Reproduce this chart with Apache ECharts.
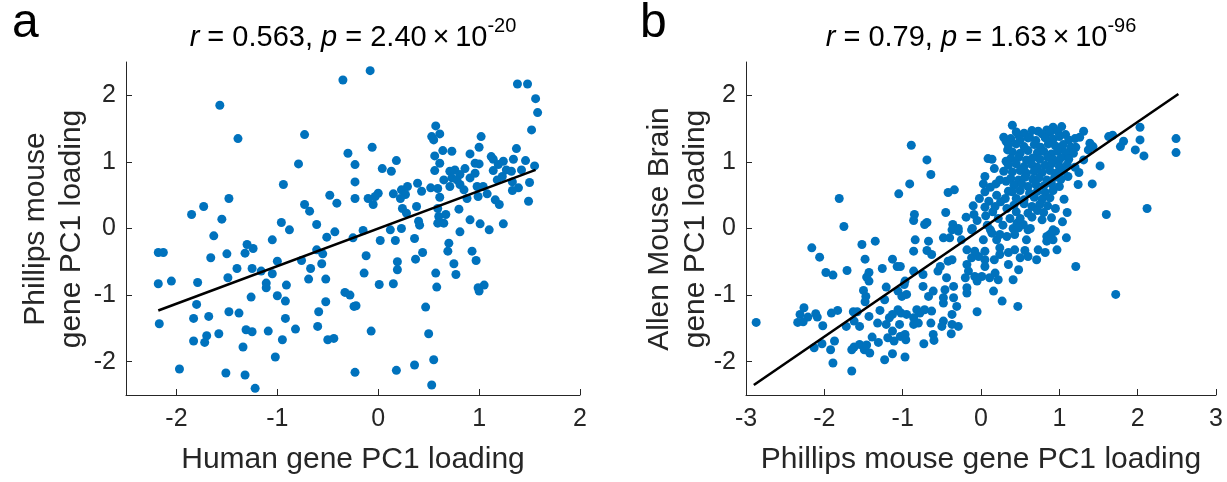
<!DOCTYPE html>
<html>
<head>
<meta charset="utf-8">
<script src="https://cdn.jsdelivr.net/npm/echarts@6/dist/echarts.min.js"></script>
<style>html,body{margin:0;padding:0;background:#fff}#c{width:1227px;height:482px}</style>
</head>
<body>
<div id="c"></div>
<script>
// ---------------- DATA ----------------
var tickValuesA_X = [-2, -1, 0, 1, 2];
var tickValuesB_X = [-3, -2, -1, 0, 1, 2, 3];
var tickValuesY = [-2, -1, 0, 1, 2];

// Panel a: Human gene PC1 loading (x) vs Phillips mouse gene PC1 loading (y)
var pointsA = [
[-0.35,2.23],[-1.57,1.85],[-1.39,1.35],[-0.73,1.41],[-0.30,1.13],[-0.23,0.96],[-0.79,0.97],[-0.94,0.66],
[-0.23,0.70],[-0.48,0.50],[-0.41,0.38],[-0.23,0.45],[-1.48,0.45],[-1.73,0.33],[-1.85,0.21],[-1.55,0.14],
[-0.73,0.36],[-0.68,0.26],[-0.96,0.09],[-0.88,-0.02],[-0.61,0.06],[-0.43,-0.05],
[-0.08,2.37],[1.38,2.17],[1.48,2.17],[1.56,1.95],[1.58,1.74],[1.52,1.48],[0.57,1.54],[0.53,1.38],
[0.61,1.42],[0.55,1.33],[1.02,1.38],[-0.06,1.22],[0.04,0.90],[0.13,0.86],[0.18,1.02],[0.64,1.17],
[0.73,1.16],[0.56,1.09],[0.61,0.98],[0.56,0.87],[0.91,1.12],[1.00,1.22],[0.96,0.98],[1.00,0.97],
[1.12,1.08],[1.14,1.04],[1.37,1.20],[1.34,1.04],[1.46,1.02],[1.24,1.01],[1.19,0.96],[1.27,0.88],
[1.14,0.87],[1.32,0.86],[1.42,0.88],[1.55,0.94],[1.18,0.73],[1.23,0.78],[1.33,0.70],[1.50,0.69],
[1.39,0.61],[1.33,0.57],[1.49,0.41],[0.71,0.86],[0.76,0.88],[0.86,0.90],[0.81,0.81],[0.73,0.76],
[0.78,0.73],[0.91,0.76],[0.96,0.83],[0.65,0.73],[0.71,0.63],[0.81,0.66],[0.85,0.58],[0.88,0.45],
[0.98,0.63],[0.99,0.48],[1.04,0.63],[1.08,0.52],[1.16,0.43],[1.20,0.36],[0.80,0.29],[0.91,0.13],
[1.01,0.07],[1.24,0.07],[1.10,-0.02],[0.81,-0.05],[0.52,0.61],[0.59,0.60],[0.61,0.47],[0.39,0.68],
[0.43,0.56],[0.29,0.63],[0.23,0.58],[0.27,0.51],[0.22,0.45],[0.15,0.52],[0.00,0.53],[-0.03,0.48],
[-0.10,0.45],[-0.05,0.36],[0.24,0.30],[0.28,0.23],[0.38,0.33],[0.40,0.11],[0.41,0.05],[0.59,0.30],
[0.60,0.18],[0.67,0.21],[0.59,0.08],[0.65,0.08],[-0.15,-0.03],[0.12,-0.02],[0.23,0.00],
[-2.18,-0.36],[-2.13,-0.36],[-2.18,-0.83],[-2.05,-0.79],[-2.17,-1.43],[-1.97,-2.11],[-1.63,-0.11],[-1.66,-0.44],
[-1.79,-0.81],[-1.80,-1.14],[-1.83,-1.35],[-1.68,-1.32],[-1.83,-1.69],[-1.70,-1.61],[-1.72,-1.71],[-1.58,-1.58],
[-1.50,-0.38],[-1.49,-0.74],[-1.40,-0.60],[-1.48,-1.25],[-1.38,-1.27],[-1.30,-0.24],[-1.32,-0.37],[-1.24,-0.30],
[-1.25,-0.60],[-1.16,-0.64],[-1.26,-1.03],[-1.31,-1.52],[-1.25,-1.55],[-1.34,-1.78],[-1.51,-2.17],[-1.32,-2.20],
[-1.22,-2.40],[-1.05,-0.17],[-1.00,-0.49],[-1.05,-0.68],[-1.11,-0.82],[-1.11,-0.89],[-1.00,-1.01],[-0.91,-0.85],
[-0.92,-1.09],[-0.92,-1.35],[-1.09,-1.54],[-0.95,-1.67],[-0.82,-1.51],[-1.02,-1.93],[-0.76,-0.48],[-0.67,-0.60],
[-0.69,-0.76],[-0.61,-0.32],[-0.55,-0.38],[-0.56,-0.53],[-0.52,-0.76],[-0.51,-0.13],[-0.52,-1.10],[-0.59,-1.25],
[-0.60,-1.47],[-0.50,-1.67],[-0.44,-1.65],[-0.33,-0.96],[-0.28,-1.00],[-0.24,-1.17],[-0.25,-0.14],[-0.23,-2.16],
[0.02,-0.18],[0.17,-0.18],[0.36,-0.15],[-0.12,-0.41],[-0.14,-0.67],[0.01,-0.84],[0.15,-0.83],[0.19,-0.50],
[0.19,-0.62],[0.37,-0.46],[0.44,-0.36],[0.70,-0.22],[0.69,-0.34],[0.75,-0.53],[0.77,-0.69],[0.57,-0.67],
[0.58,-0.88],[0.93,-0.34],[0.97,-0.48],[1.05,-0.85],[0.99,-0.89],[1.00,-0.94],[-0.22,-1.16],[0.47,-1.18],
[-0.07,-1.54],[0.50,-1.58],[0.55,-1.97],[0.36,-2.05],[0.18,-2.13],[0.53,-2.35]
];
var fitA = [[-2.18, -1.23], [1.56, 0.88]];

// Panel b: Phillips mouse gene PC1 loading (x) vs Allen Mouse Brain gene PC1 loading (y)
var pointsB = [
[-1.81,0.45],[-1.05,0.52],[-1.75,0.03],[-0.89,1.25],[-0.69,1.03],[-0.64,0.81],[-0.91,0.67],[-0.42,0.54],
[-0.34,0.58],[-0.45,0.24],[-0.85,0.21],[-0.86,0.12],[-0.69,0.09],[-0.36,0.06],[-0.29,0.00],[-0.19,0.17],
[-0.10,0.34],[-0.09,0.21],[-0.11,0.00],[0.06,0.19],[0.10,0.41],[0.18,0.33],[0.09,1.05],[0.14,1.04],
[0.05,0.78],[0.03,0.67],[0.17,0.90],[0.19,0.67],[0.29,1.37],[0.32,1.31],[0.40,1.55],[0.48,1.40],
[0.34,1.18],[0.32,1.01],[0.29,0.86],[0.24,0.73],[0.32,0.71],[0.35,0.56],[0.31,0.45],[0.33,0.30],
[0.37,0.15],[0.41,0.00],[0.73,1.46],[0.84,1.48],[0.92,1.52],[0.60,1.36],[0.95,0.30],[0.92,-0.02],
[0.63,0.00],[0.54,0.06],[0.46,0.08],
[1.03,1.53],[1.31,1.46],[1.26,1.37],[1.63,1.38],[1.68,1.40],[1.39,1.28],[1.43,1.23],[1.37,1.18],
[1.82,1.31],[1.78,1.23],[2.03,1.52],[2.03,1.33],[1.97,1.18],[2.08,1.09],[2.49,1.35],[2.49,1.14],
[1.52,0.94],[1.21,1.22],[1.03,1.21],[1.11,1.11],[1.31,1.03],[1.25,0.84],[1.11,0.78],[1.24,0.66],
[1.42,0.67],[1.06,0.44],[1.10,0.24],[1.04,0.10],[1.60,0.21],[2.12,0.30],[0.99,1.01],[1.03,0.91],
[0.95,-0.04],[1.09,-0.14],[0.97,-0.32],[1.21,-0.57],[1.72,-0.99],
// dense cluster (upper right of centre)
[0.45,1.45],[0.55,1.43],[0.65,1.47],[0.78,1.42],[0.88,1.44],[0.98,1.46],[1.08,1.41],
[0.38,1.35],[0.50,1.33],[0.62,1.37],[0.70,1.32],[0.82,1.36],[0.92,1.34],[1.00,1.38],[1.12,1.33],[1.20,1.35],
[0.35,1.25],[0.45,1.27],[0.55,1.23],[0.68,1.26],[0.76,1.22],[0.86,1.27],[0.95,1.24],[1.05,1.26],[1.15,1.22],
[0.40,1.15],[0.50,1.13],[0.60,1.17],[0.72,1.14],[0.80,1.16],[0.90,1.12],[0.98,1.16],[1.08,1.14],[1.18,1.13],
[0.38,1.05],[0.48,1.07],[0.58,1.03],[0.66,1.06],[0.75,1.04],[0.85,1.07],[0.93,1.03],[1.02,1.06],[1.12,1.04],
[0.35,0.95],[0.45,0.97],[0.55,0.93],[0.65,0.96],[0.72,0.92],[0.82,0.95],[0.90,0.97],[1.00,0.93],[1.10,0.96],[1.20,0.92],
[0.40,0.85],[0.50,0.87],[0.58,0.83],[0.68,0.86],[0.78,0.84],[0.88,0.87],[0.96,0.83],[1.05,0.86],
[0.38,0.75],[0.48,0.73],[0.56,0.77],[0.66,0.74],[0.74,0.76],[0.84,0.73],[0.94,0.77],[1.02,0.74],
[0.42,0.65],[0.52,0.67],[0.60,0.63],[0.70,0.66],[0.80,0.64],[0.90,0.67],[1.00,0.63],
[0.40,0.55],[0.50,0.57],[0.62,0.53],[0.72,0.56],[0.82,0.54],[0.92,0.57],
[0.45,0.45],[0.55,0.43],[0.68,0.47],[0.78,0.44],[0.88,0.46],
[0.42,0.35],[0.55,0.37],[0.65,0.33],[0.75,0.36],[0.85,0.34],
[0.45,0.25],[0.60,0.23],[0.72,0.27],[0.80,0.24],
[0.50,0.15],[0.65,0.17],[0.78,0.13],[0.90,0.16],
// centre-left region
[0.05,0.55],[0.12,0.62],[0.20,0.50],[0.25,0.40],[0.15,0.25],[0.05,0.32],[-0.02,0.45],[0.22,0.15],
[0.08,0.05],[-0.05,0.12],[0.28,0.05],[0.12,-0.02],
// lower left
[-2.87,-1.41],[-2.16,-0.29],[-2.06,-0.43],[-1.98,-0.66],[-1.89,-0.70],[-1.71,-0.63],[-1.52,-0.24],[-1.35,-0.19],
[-1.48,-0.46],[-1.43,-0.66],[-1.46,-0.73],[-1.43,-0.79],[-1.26,-0.60],[-1.13,-0.46],[-1.07,-0.57],[-1.50,-0.93],
[-1.47,-1.02],[-1.48,-1.10],[-1.21,-0.88],[-1.06,-0.94],[-1.01,-1.02],[-1.23,-1.07],[-2.26,-1.19],[-2.31,-1.29],
[-2.21,-1.33],[-2.34,-1.41],[-2.27,-1.40],[-2.11,-1.28],[-2.09,-1.33],[-2.02,-1.46],[-1.91,-1.27],[-1.83,-1.23],
[-1.72,-1.47],[-1.63,-1.25],[-1.58,-1.25],[-1.62,-1.39],[-1.55,-1.47],[-1.43,-1.32],[-1.29,-1.23],[-1.32,-1.42],
[-1.39,-1.63],[-1.31,-1.71],[-1.21,-1.44],[-1.17,-1.34],[-1.13,-1.54],[-1.19,-1.64],[-1.11,-1.69],[-1.04,-1.44],
[-1.02,-1.27],[-1.06,-1.22],[-1.13,-1.29],[-1.03,-1.62],[-1.87,-1.69],[-2.03,-1.73],[-2.13,-1.79],[-1.92,-1.82],
[-1.89,-2.02],[-1.65,-2.14],[-1.62,-1.78],[-1.65,-1.82],[-1.55,-1.74],[-1.49,-1.82],[-1.42,-1.87],[-1.46,-1.75],
[-1.23,-1.97],[-1.13,-1.88],[-0.97,-1.93],[-0.98,-0.84],
// centre-lower region
[-1.03,-0.57],[-0.97,-0.79],[-0.84,-0.17],[-0.86,-0.34],[-0.67,-0.19],[-0.69,-0.33],[-0.63,-0.39],[-0.72,0.06],
[-0.48,-0.14],[-0.40,-0.14],[-0.37,-0.02],[-0.29,-0.04],[-0.25,-0.17],[-0.12,-0.02],[0.03,-0.17],[0.14,-0.07],
[0.20,-0.17],[0.24,-0.09],[0.33,-0.12],[0.43,-0.09],[0.48,0.01],[0.60,-0.02],[0.58,-0.17],[0.88,-0.09],
[0.92,-0.17],[0.82,-0.36],[0.71,-0.47],[0.60,-0.42],[0.56,-0.33],[0.50,-0.44],[0.43,-0.32],[0.35,-0.36],
[0.24,-0.29],[0.24,-0.39],[0.17,-0.47],[0.05,-0.34],[0.05,-0.47],[-0.03,-0.42],[-0.18,-0.32],[-0.12,-0.44],
[-0.18,-0.54],[-0.16,-0.64],[-0.20,-0.74],[-0.08,-0.72],[0.01,-0.72],[0.11,-0.74],[0.18,-0.67],[0.22,-0.77],
[0.05,-0.57],[0.35,-0.54],[0.48,-0.62],[0.41,-0.77],[0.16,-0.94],[0.27,-1.09],[0.47,-1.17],[-0.05,-1.25],
[-0.18,-0.89],[-0.18,-0.97],[-0.35,-0.87],[-0.46,-0.92],[-0.35,-1.04],[-0.31,-1.17],[-0.48,-1.04],[-0.48,-1.12],
[-0.37,-1.29],[-0.48,-1.39],[-0.50,-1.47],[-0.37,-1.44],[-0.29,-1.47],[-0.38,-1.58],[-0.61,-1.59],[-0.60,-1.68],
[-0.73,-1.73],[-0.64,-1.42],[-0.67,-1.02],[-0.61,-0.94],[-0.74,-0.87],[-0.95,-0.99],[-0.95,-1.29],[-0.82,-1.22],
[-0.78,-1.27],[-0.72,-1.22],[-0.63,-1.24],[-0.86,-1.34],[-0.80,-1.42],[-0.86,-1.44],[-0.97,-1.59],[-0.96,-1.67],
[-0.08,-0.34],[-0.05,-0.79],[-0.52,-0.57],[-0.55,-0.64],[-0.44,-0.74],[-0.42,-0.49],[-0.37,-0.47],[-0.74,-0.69],
[-0.86,-0.64],[0.84,-0.19],[0.84,-0.12],[0.90,-0.07],[0.73,-0.32]
];
var fitB = [[-2.90, -2.35], [2.52, 2.02]];

// ---------------- CHART ----------------
var FONT = '"Liberation Sans", Arial, Helvetica, sans-serif';
var AX = '#262626';
var BLUE = '#0072BD';
var TICK_FS = 25, LABEL_FS = 30, TITLE_FS = 29;

function xAxisCfg(idx, min, max, ticks) {
  return {
    gridIndex: idx, type: 'value', min: min, max: max,
    axisLine: {show: true, onZero: false, lineStyle: {color: AX, width: 1}},
    axisTick: {show: true, inside: true, length: 6, customValues: ticks, lineStyle: {color: AX}},
    axisLabel: {customValues: ticks, color: AX, fontSize: TICK_FS, fontFamily: FONT, margin: 12},
    splitLine: {show: false}
  };
}
function yAxisCfg(idx, ticks) {
  return {
    gridIndex: idx, type: 'value', min: -2.5, max: 2.5,
    axisLine: {show: true, onZero: false, lineStyle: {color: AX, width: 1}},
    axisTick: {show: true, inside: true, length: 6, customValues: ticks, lineStyle: {color: AX}},
    axisLabel: {customValues: ticks, color: AX, fontSize: TICK_FS, fontFamily: FONT, margin: 10},
    splitLine: {show: false}
  };
}
function titleText(x, y, r, pm, pe) {
  var base = {fontSize: TITLE_FS, fontFamily: FONT, lineHeight: 44, fill: '#000'};
  return {
    type: 'text', x: x, y: y,
    style: {
      text: '{i|r}{n| = ' + r + ', }{i|p}{n| = ' + pm + '\u2009\u00d7\u200910}{s|' + pe + '}',
      align: 'center', verticalAlign: 'middle', fill: '#000',
      fontSize: TITLE_FS, fontFamily: FONT,
      rich: {
        n: base,
        i: Object.assign({}, base, {fontStyle: 'italic'}),
        s: {fontSize: 20, fontFamily: FONT, lineHeight: 14, verticalAlign: 'top', fill: '#000'}
      }
    }
  };
}
function label(text, x, y, rot) {
  return {
    type: 'text', x: x, y: y, rotation: rot || 0,
    style: {text: text, fontSize: LABEL_FS, fontFamily: FONT, fill: AX, align: 'center', verticalAlign: 'middle'}
  };
}
function panelLetter(text, x) {
  return {type: 'text', x: x, y: 24,
    style: {text: text, fontSize: 48, fontFamily: FONT, fill: '#000', align: 'left', verticalAlign: 'middle'}};
}

var chart = echarts.init(document.getElementById('c'), null, {renderer: 'canvas'});
chart.setOption({
  animation: false,
  backgroundColor: '#fff',
  grid: [
    {left: 126, top: 62, width: 454, height: 333},
    {left: 746, top: 62, width: 470, height: 333}
  ],
  xAxis: [xAxisCfg(0, -2.5, 2, tickValuesA_X), xAxisCfg(1, -3, 3, tickValuesB_X)],
  yAxis: [yAxisCfg(0, tickValuesY), yAxisCfg(1, tickValuesY)],
  series: [
    {type: 'scatter', xAxisIndex: 0, yAxisIndex: 0, data: pointsA, symbolSize: 9,
     itemStyle: {color: BLUE, opacity: 1}, z: 2},
    {type: 'line', xAxisIndex: 0, yAxisIndex: 0, data: fitA, symbol: 'none',
     lineStyle: {color: '#000', width: 2.6}, z: 3},
    {type: 'scatter', xAxisIndex: 1, yAxisIndex: 1, data: pointsB, symbolSize: 9,
     itemStyle: {color: BLUE, opacity: 1}, z: 2},
    {type: 'line', xAxisIndex: 1, yAxisIndex: 1, data: fitB, symbol: 'none',
     lineStyle: {color: '#000', width: 2.6}, z: 3}
  ],
  graphic: [
    panelLetter('a', 12),
    panelLetter('b', 640),
    titleText(353, 38, '0.563', '2.40', '-20'),
    titleText(981, 38, '0.79', '1.63', '-96'),
    label('Human gene PC1 loading', 353, 460),
    label('Phillips mouse gene PC1 loading', 981, 460),
    label('Phillips mouse', 36, 229, Math.PI / 2),
    label('gene PC1 loading', 72, 229, Math.PI / 2),
    label('Allen Mouse Brain', 660, 229, Math.PI / 2),
    label('gene PC1 loading', 696, 229, Math.PI / 2)
  ]
});
</script>
</body>
</html>
